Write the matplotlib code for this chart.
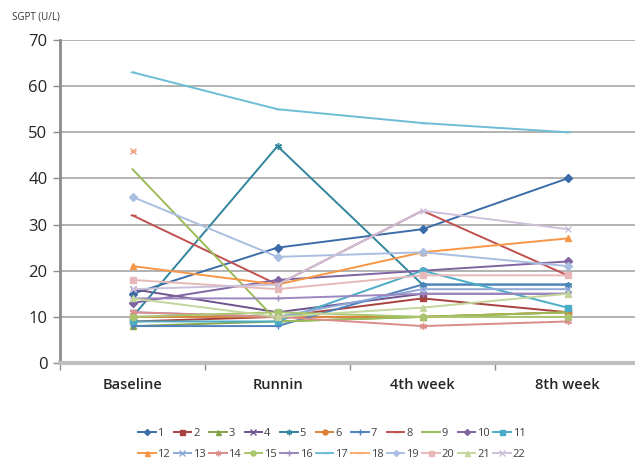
import numpy as np
import matplotlib.pyplot as plt

nan = np.nan

weeks = ["Baseline", "Runnin", "4th week", "8th week"]

s1 = [15, 25, 29, 40]
s2 = [9, 10, 14, 11]
s3 = [8, 9, 10, 11]
s4 = [16, 11, 15, 15]
s5 = [10, 47, 17, 17]
s6 = [10, 10, 10, 11]
s7 = [8, 8, 17, 17]
s8 = [32, 17, 33, 19]
s9 = [42, 9, 10, 11]
s10 = [13, 18, 20, 22]
s11 = [9, 9, 20, 12]
s12 = [21, 17, 24, 27]
s13 = [11, 10, 16, 16]
s14 = [11, 10, 8, 9]
s15 = [10, 11, 10, 10]
s16 = [14, 14, 15, 15]
s17 = [63, 55, 52, 50]
s18 = [46, nan, nan, nan]
s19 = [36, 23, 24, 21]
s20 = [18, 16, 19, 19]
s21 = [14, 10, 12, 15]
s22 = [16, 17, 33, 29]

series = [s1, s2, s3, s4, s5, s6, s7, s8, s9, s10, s11,
          s12, s13, s14, s15, s16, s17, s18, s19, s20, s21, s22]

colors = ["#3C6CA8", "#A8423F", "#86A44A", "#6E548D", "#31859C", "#DA8137",
          "#4F81BD", "#C0504D", "#9BBB59", "#8064A2", "#4BACC6", "#F79646",
          "#8EA9D8", "#D98C8A", "#A9C56E", "#9B86C0", "#6DBDD6", "#F9AB6B",
          "#A9BEE0", "#E6B9B8", "#C3D69B", "#CCC0DA"]
asterisk = (6, 2, 0)
markers = ["D", "s", "^", "x", asterisk, "o", "+", "_", "None", "D", "s",
           "^", "x", asterisk, "o", "+", "_", "_", "D", "s", "^", "x"]

plt.rcParams["font.family"] = ["Open Sans", "DejaVu Sans"]

fig = plt.figure(figsize=(6.35, 4.61), dpi=100)
ax = fig.add_axes([60 / 635, 98 / 461, 580 / 635, 323 / 461])

x = np.arange(len(weeks))
for i, vals in enumerate(series):
    m = markers[i]
    if m == "D":
        ms = 3.8
    elif m in ("s", "^", "o"):
        ms = 4.5
    else:
        ms = 5
    ax.plot(x, vals, color=colors[i], lw=1.4, marker=m, ms=ms,
            mew=1.0, label=str(i + 1), zorder=3)
# the lone baseline reading of series 18 is drawn as a cross
ax.plot(x, s18, color="#EE9E86", lw=0, marker="x", ms=5, mew=1.0, zorder=3)

ax.set_xlim(-0.5, 3.5)
ax.set_ylim(0, 70)
ax.set_yticks(range(0, 71, 10))
ax.yaxis.grid(True, color="#A6A6A6", lw=1.2)
ax.set_axisbelow(True)

ax.set_xticks(x)
ax.set_xticklabels(weeks, fontsize=10.5, fontweight="semibold", color="#262626")
ax.set_xticks(np.arange(-0.5, 3.6, 1), minor=True)
ax.tick_params(axis="x", which="major", length=0, pad=11)
ax.tick_params(axis="x", which="minor", length=5, width=1, color="#8C8C8C",
               direction="out")
ax.tick_params(axis="y", length=5, width=1, color="#8C8C8C", labelsize=12,
               labelcolor="#262626", pad=4)

for side in ("top", "right"):
    ax.spines[side].set_visible(False)
ax.spines["left"].set_color("#8C8C8C")
ax.spines["left"].set_linewidth(2)
ax.spines["bottom"].set_color("#BFBFBF")
ax.spines["bottom"].set_linewidth(3)

fig.text(12 / 635, 1 - 17 / 461, "SGPT (U/L)", fontsize=7, color="#333333",
         va="center")

# legend fills column by column, so interleave to get 1-11 on the first row
handles, labels = ax.get_legend_handles_labels()
order = [k for j in range(11) for k in (j, j + 11)]
fig.legend([handles[k] for k in order], [labels[k] for k in order],
           ncol=11, loc="upper left", bbox_to_anchor=(128 / 635, 1 - 418 / 461),
           frameon=False, fontsize=8, handlelength=1.6, handletextpad=0.15,
           columnspacing=0.3, labelspacing=0.9, markerscale=0.8,
           labelcolor="#404040")

fig.savefig("out.png", dpi=100)
